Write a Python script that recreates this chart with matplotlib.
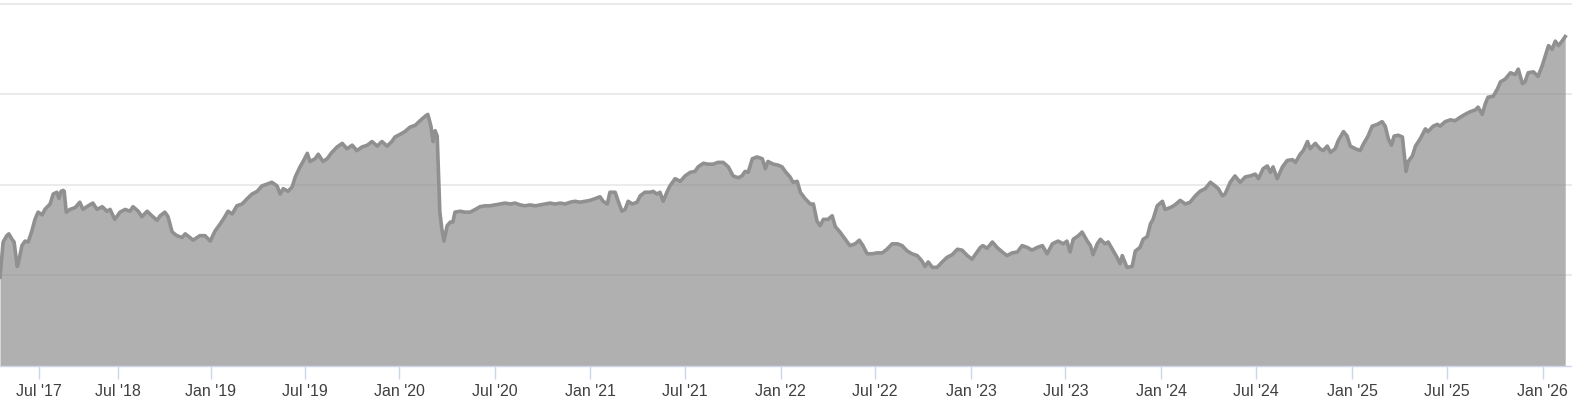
import matplotlib.pyplot as plt

# Days since the start of the series, and the closing level
days = [0, 6, 13, 17, 23, 27, 33, 35, 42, 48, 54, 61, 67, 73, 81, 86, 96, 102, 109, 113,
        117, 121, 123, 127, 134, 144, 153, 159, 169, 178, 186, 196, 205, 211, 220, 230, 240, 249, 255, 265,
        272, 282, 291, 301, 307, 316, 322, 330, 339, 349, 355, 364, 370, 383, 393, 403, 412, 422, 431, 437,
        445, 454, 464, 474, 483, 493, 502, 512, 521, 531, 537, 543, 552, 560, 566, 575, 581, 589, 594, 604,
        610, 619, 627, 636, 646, 656, 665, 675, 684, 694, 704, 713, 723, 732, 742, 751, 757, 767, 776, 786,
        796, 805, 815, 820, 826, 830, 834, 838, 840, 843, 847, 851, 857, 863, 868, 872, 882, 891, 901, 911,
        920, 930, 939, 949, 959, 968, 978, 987, 997, 1006, 1016, 1026, 1035, 1045, 1054, 1064, 1074, 1083, 1093, 1102,
        1112, 1121, 1131, 1141, 1150, 1156, 1164, 1169, 1179, 1185, 1192, 1198, 1204, 1212, 1221, 1227, 1236, 1246, 1252, 1259,
        1265, 1271, 1279, 1284, 1294, 1304, 1313, 1323, 1332, 1338, 1348, 1357, 1367, 1376, 1386, 1396, 1405, 1415, 1422, 1428,
        1434, 1442, 1451, 1461, 1467, 1472, 1482, 1491, 1499, 1505, 1514, 1520, 1528, 1534, 1543, 1553, 1559, 1566, 1572, 1578,
        1587, 1595, 1601, 1610, 1620, 1629, 1639, 1647, 1654, 1662, 1672, 1681, 1691, 1700, 1710, 1720, 1729, 1739, 1748, 1758,
        1767, 1773, 1779, 1787, 1796, 1806, 1815, 1825, 1835, 1844, 1854, 1863, 1873, 1879, 1884, 1892, 1902, 1911, 1921, 1930,
        1940, 1950, 1959, 1969, 1978, 1988, 1998, 2007, 2017, 2028, 2038, 2045, 2051, 2057, 2067, 2074, 2084, 2090, 2095, 2103,
        2109, 2118, 2124, 2132, 2141, 2147, 2151, 2160, 2170, 2176, 2185, 2191, 2199, 2205, 2210, 2218, 2228, 2233, 2243, 2252,
        2262, 2272, 2281, 2291, 2300, 2310, 2320, 2329, 2335, 2343, 2348, 2358, 2367, 2377, 2387, 2396, 2406, 2412, 2421, 2429,
        2435, 2440, 2448, 2458, 2467, 2477, 2483, 2492, 2498, 2506, 2511, 2521, 2530, 2536, 2544, 2550, 2559, 2565, 2575, 2582,
        2588, 2598, 2607, 2613, 2622, 2630, 2640, 2649, 2655, 2661, 2667, 2672, 2680, 2688, 2691, 2695, 2699, 2707, 2713, 2722,
        2732, 2737, 2747, 2755, 2760, 2770, 2780, 2789, 2799, 2808, 2818, 2828, 2833, 2841, 2847, 2852, 2862, 2870, 2876, 2885,
        2895, 2904, 2910, 2918, 2923, 2929, 2939, 2948, 2956, 2962, 2968, 2975, 2981, 2987, 2994, 3000]

price = [98, 137, 144, 146, 140, 137, 110, 113, 133, 138, 137, 149, 162, 170, 167, 173, 179, 190, 192, 185,
         193, 194, 193, 170, 173, 175, 181, 173, 177, 180, 173, 176, 171, 173, 162, 170, 173, 171, 176, 171,
         165, 171, 166, 161, 166, 170, 165, 148, 144, 142, 146, 142, 139, 144, 144, 138, 149, 157, 165, 171,
         168, 177, 179, 185, 190, 193, 199, 201, 203, 199, 190, 196, 193, 198, 209, 220, 226, 235, 226, 229,
         234, 226, 229, 236, 242, 246, 240, 244, 238, 242, 244, 248, 243, 248, 243, 248, 253, 256, 259, 264,
         266, 271, 276, 278, 265, 248, 260, 254, 220, 170, 151, 138, 155, 159, 159, 170, 171, 170, 170, 173,
         176, 177, 177, 178, 179, 180, 179, 180, 178, 177, 178, 177, 178, 179, 180, 179, 180, 179, 181, 182,
         181, 182, 183, 185, 187, 182, 179, 192, 192, 182, 171, 173, 182, 179, 181, 188, 192, 192, 193, 190,
         192, 182, 193, 199, 207, 204, 210, 214, 215, 220, 224, 223, 223, 225, 225, 220, 210, 208, 210, 215,
         214, 229, 231, 229, 218, 226, 223, 222, 220, 215, 209, 203, 204, 192, 185, 179, 179, 160, 155, 162,
         162, 166, 154, 148, 140, 133, 135, 139, 133, 124, 124, 125, 125, 129, 135, 135, 133, 127, 124, 122,
         116, 110, 115, 109, 109, 115, 120, 123, 129, 128, 122, 118, 126, 131, 133, 130, 137, 131, 126, 122,
         125, 126, 133, 131, 128, 131, 133, 124, 135, 138, 135, 138, 126, 140, 144, 148, 138, 133, 123, 135,
         140, 135, 137, 129, 120, 113, 122, 109, 110, 127, 131, 140, 143, 157, 162, 177, 182, 173, 175, 178,
         183, 179, 181, 188, 193, 196, 203, 199, 196, 188, 190, 203, 210, 203, 209, 210, 212, 207, 218, 221,
         214, 220, 207, 220, 227, 228, 225, 234, 238, 248, 240, 246, 240, 238, 243, 236, 240, 249, 259, 254,
         243, 240, 238, 245, 254, 265, 267, 270, 265, 251, 244, 254, 255, 253, 236, 215, 226, 232, 243, 251,
         262, 259, 265, 267, 265, 270, 272, 271, 275, 278, 281, 283, 286, 278, 290, 297, 298, 306, 314, 317,
         324, 322, 328, 312, 314, 324, 325, 320, 332, 343, 354, 350, 359, 354, 359, 364]

tick_days = [75, 226, 404, 585, 765, 949, 1131, 1312, 1496, 1677, 1861, 2042, 2226, 2408, 2592, 2773, 2957]
tick_labels = ["Jul '17", "Jul '18", "Jan '19", "Jul '19", "Jan '20", "Jul '20", "Jan '21", "Jul '21",
               "Jan '22", "Jul '22", "Jan '23", "Jul '23", "Jan '24", "Jul '24", "Jan '25", "Jul '25", "Jan '26"]
grid_levels = [100, 200, 300, 400]

W, H = 1572, 402
fig = plt.figure(figsize=(W / 100, H / 100), dpi=100)
ax = fig.add_axes([0, 35 / H, 1, 367 / H])

ax.fill_between(days, price, 0, color='#888888', alpha=0.66, linewidth=0, zorder=2)
ax.plot(days, price, color='#909090', linewidth=2.6, solid_joinstyle='round', zorder=3)

ax.set_xlim(0, 3013)
ax.set_ylim(0, 405.5)
ax.set_axisbelow(True)
ax.set_yticks(grid_levels)
ax.yaxis.grid(True, color='#e6e6e6', linewidth=1.1)
ax.tick_params(axis='y', left=False, labelleft=False)

ax.set_xticks(tick_days, tick_labels)
ax.tick_params(axis='x', length=9, width=1, color='#ccd6eb', pad=3,
               labelsize=11.5, labelcolor='#404040')
for lab in ax.get_xticklabels():
    lab.set_family(['Liberation Sans', 'DejaVu Sans'])

for side in ['top', 'right', 'left']:
    ax.spines[side].set_visible(False)
ax.spines['bottom'].set_color('#ccd6eb')
ax.spines['bottom'].set_linewidth(1)

fig.savefig('out.png', dpi=100)
